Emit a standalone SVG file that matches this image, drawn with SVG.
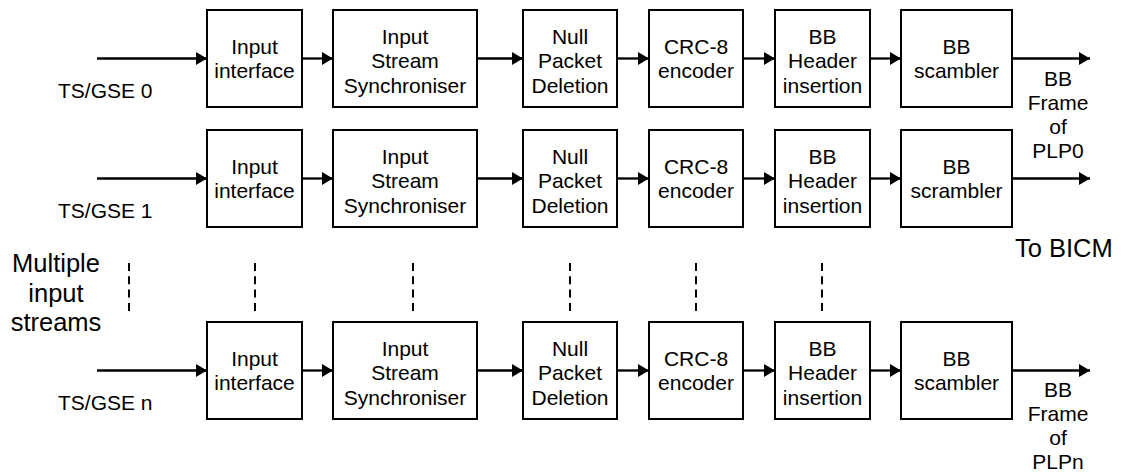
<svg xmlns="http://www.w3.org/2000/svg" width="1121" height="472" viewBox="0 0 1121 472">
<style>
.box{fill:#fff;stroke:#000;stroke-width:2}
.t{font-family:"Liberation Sans",Arial,sans-serif;font-size:21px;fill:#000;text-anchor:middle}
.ts{font-family:"Liberation Sans",Arial,sans-serif;font-size:21px;fill:#000}
.big{font-family:"Liberation Sans",Arial,sans-serif;font-size:25.5px;fill:#000}
.c{stroke:#000;stroke-width:2.3;fill:none;marker-end:url(#ah)}
.d{stroke:#000;stroke-width:2;stroke-dasharray:8 5.3;fill:none}
</style>
<defs>
<marker id="ah" markerUnits="userSpaceOnUse" markerWidth="12" markerHeight="14" refX="11" refY="6.5" orient="auto">
<path d="M0,0 L11,6.5 L0,13 z" fill="#000"/>
</marker>
</defs>
<rect width="1121" height="472" fill="#fff"/>

<g id="connectors">
<line class="c" x1="97" y1="58.5" x2="207" y2="58.5"/>
<line class="c" x1="302" y1="58.5" x2="333" y2="58.5"/>
<line class="c" x1="477" y1="58.5" x2="523" y2="58.5"/>
<line class="c" x1="617" y1="58.5" x2="649" y2="58.5"/>
<line class="c" x1="743" y1="58.5" x2="775" y2="58.5"/>
<line class="c" x1="870" y1="58.5" x2="901" y2="58.5"/>
<line class="c" x1="1012" y1="58.5" x2="1090" y2="58.5"/>

<line class="c" x1="97" y1="178.5" x2="207" y2="178.5"/>
<line class="c" x1="302" y1="178.5" x2="333" y2="178.5"/>
<line class="c" x1="477" y1="178.5" x2="523" y2="178.5"/>
<line class="c" x1="617" y1="178.5" x2="649" y2="178.5"/>
<line class="c" x1="743" y1="178.5" x2="775" y2="178.5"/>
<line class="c" x1="870" y1="178.5" x2="901" y2="178.5"/>
<line class="c" x1="1012" y1="178.5" x2="1090" y2="178.5"/>

<line class="c" x1="97" y1="370.5" x2="207" y2="370.5"/>
<line class="c" x1="302" y1="370.5" x2="333" y2="370.5"/>
<line class="c" x1="477" y1="370.5" x2="523" y2="370.5"/>
<line class="c" x1="617" y1="370.5" x2="649" y2="370.5"/>
<line class="c" x1="743" y1="370.5" x2="775" y2="370.5"/>
<line class="c" x1="870" y1="370.5" x2="901" y2="370.5"/>
<line class="c" x1="1012" y1="370.5" x2="1090" y2="370.5"/>

<line class="d" x1="129" y1="263" x2="129" y2="311"/>
<line class="d" x1="255" y1="263" x2="255" y2="311"/>
<line class="d" x1="413" y1="263" x2="413" y2="311"/>
<line class="d" x1="570" y1="263" x2="570" y2="311"/>
<line class="d" x1="696" y1="263" x2="696" y2="311"/>
<line class="d" x1="822" y1="263" x2="822" y2="311"/>
</g>

<!-- Row 0 -->
<g id="r0-input-interface"><rect class="box" x="207" y="10" width="95" height="97"/><text class="t" x="254.5" y="53.5">Input</text><text class="t" x="254.5" y="78">interface</text></g>
<g id="r0-iss"><rect class="box" x="333" y="10" width="144" height="97"/><text class="t" x="405" y="43.5">Input</text><text class="t" x="405" y="68">Stream</text><text class="t" x="405" y="92.5">Synchroniser</text></g>
<g id="r0-npd"><rect class="box" x="523" y="10" width="94" height="97"/><text class="t" x="570" y="43.5">Null</text><text class="t" x="570" y="68">Packet</text><text class="t" x="570" y="92.5">Deletion</text></g>
<g id="r0-crc"><rect class="box" x="649" y="10" width="94" height="97"/><text class="t" x="696" y="53.5">CRC-8</text><text class="t" x="696" y="78">encoder</text></g>
<g id="r0-bbh"><rect class="box" x="775" y="10" width="95" height="97"/><text class="t" x="822.5" y="43.5">BB</text><text class="t" x="822.5" y="68">Header</text><text class="t" x="822.5" y="92.5">insertion</text></g>
<g id="r0-bbs"><rect class="box" x="901" y="10" width="111" height="97"/><text class="t" x="956.5" y="53.5">BB</text><text class="t" x="956.5" y="78">scambler</text></g>

<!-- Row 1 -->
<g id="r1-input-interface"><rect class="box" x="207" y="130" width="95" height="97"/><text class="t" x="254.5" y="173.5">Input</text><text class="t" x="254.5" y="198">interface</text></g>
<g id="r1-iss"><rect class="box" x="333" y="130" width="144" height="97"/><text class="t" x="405" y="163.5">Input</text><text class="t" x="405" y="188">Stream</text><text class="t" x="405" y="212.5">Synchroniser</text></g>
<g id="r1-npd"><rect class="box" x="523" y="130" width="94" height="97"/><text class="t" x="570" y="163.5">Null</text><text class="t" x="570" y="188">Packet</text><text class="t" x="570" y="212.5">Deletion</text></g>
<g id="r1-crc"><rect class="box" x="649" y="130" width="94" height="97"/><text class="t" x="696" y="173.5">CRC-8</text><text class="t" x="696" y="198">encoder</text></g>
<g id="r1-bbh"><rect class="box" x="775" y="130" width="95" height="97"/><text class="t" x="822.5" y="163.5">BB</text><text class="t" x="822.5" y="188">Header</text><text class="t" x="822.5" y="212.5">insertion</text></g>
<g id="r1-bbs"><rect class="box" x="901" y="130" width="111" height="97"/><text class="t" x="956.5" y="173.5">BB</text><text class="t" x="956.5" y="198">scrambler</text></g>

<!-- Row n -->
<g id="rn-input-interface"><rect class="box" x="207" y="322" width="95" height="97"/><text class="t" x="254.5" y="365.5">Input</text><text class="t" x="254.5" y="390">interface</text></g>
<g id="rn-iss"><rect class="box" x="333" y="322" width="144" height="97"/><text class="t" x="405" y="355.5">Input</text><text class="t" x="405" y="380">Stream</text><text class="t" x="405" y="404.5">Synchroniser</text></g>
<g id="rn-npd"><rect class="box" x="523" y="322" width="94" height="97"/><text class="t" x="570" y="355.5">Null</text><text class="t" x="570" y="380">Packet</text><text class="t" x="570" y="404.5">Deletion</text></g>
<g id="rn-crc"><rect class="box" x="649" y="322" width="94" height="97"/><text class="t" x="696" y="365.5">CRC-8</text><text class="t" x="696" y="390">encoder</text></g>
<g id="rn-bbh"><rect class="box" x="775" y="322" width="95" height="97"/><text class="t" x="822.5" y="355.5">BB</text><text class="t" x="822.5" y="380">Header</text><text class="t" x="822.5" y="404.5">insertion</text></g>
<g id="rn-bbs"><rect class="box" x="901" y="322" width="111" height="97"/><text class="t" x="956.5" y="365.5">BB</text><text class="t" x="956.5" y="390">scambler</text></g>

<g id="labels">
<text class="ts" x="58" y="98">TS/GSE 0</text>
<text class="ts" x="58" y="218">TS/GSE 1</text>
<text class="ts" x="58" y="410">TS/GSE n</text>
<text class="t" x="1058" y="86">BB</text>
<text class="t" x="1058" y="110">Frame</text>
<text class="t" x="1058" y="134">of</text>
<text class="t" x="1058" y="158">PLP0</text>
<text class="t" x="1058" y="397">BB</text>
<text class="t" x="1058" y="421">Frame</text>
<text class="t" x="1058" y="445">of</text>
<text class="t" x="1058" y="469">PLPn</text>
<text class="big" x="1015" y="257">To BICM</text>
<text class="big" x="56" y="272" text-anchor="middle">Multiple</text>
<text class="big" x="56" y="302" text-anchor="middle">input</text>
<text class="big" x="56" y="331" text-anchor="middle">streams</text>
</g>
</svg>
